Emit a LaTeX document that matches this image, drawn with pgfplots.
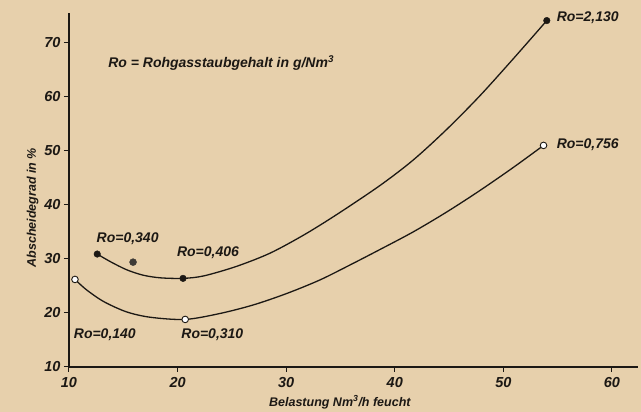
\documentclass[border=0pt]{standalone}
\usepackage{fontspec}
\setmainfont{Liberation Sans}
\usepackage{pgfplots}
\pgfplotsset{compat=1.18}
\definecolor{paper}{RGB}{231,208,172}
\definecolor{ink}{RGB}{28,24,20}
\begin{document}
\begin{tikzpicture}
\useasboundingbox (0,0) rectangle (641pt,412pt);
\fill[paper] (0,0) rectangle (641pt,412pt);
\begin{axis}[
  at={(69pt,45pt)}, anchor=south west,
  scale only axis, width=569pt, height=354pt,
  xmin=10, xmax=62.4, ymin=10, ymax=75.5,
  axis x line*=bottom, axis y line*=left,
  axis line style={ink, line width=1.4pt},
  xtick={10,20,...,60}, ytick={10,20,...,70},
  tick style={ink, line width=1pt}, tick align=outside, major tick length=5pt,
  /pgf/number format/assume math mode=true,
  tick label style={font=\fontsize{14.5}{16}\selectfont\bfseries\itshape, text=ink},
  xticklabel style={yshift=-2pt},
  label style={font=\fontsize{12.5}{14}\selectfont\bfseries\itshape, text=ink},
  xlabel={Belastung Nm\textsuperscript{3}/h feucht},
  ylabel={Abscheidegrad in \%},
  xlabel style={at={(axis description cs:0.476,-0.10)}, anchor=center},
  ylabel style={at={(axis description cs:-0.064,0.45)}, anchor=center},
  clip=false,
]
% upper curve (filled points)
\addplot[ink, line width=1.3pt, smooth] coordinates {
 (12.6,30.9) (13.8,29.5) (15.3,28.0) (16.8,27.0) (18.4,26.5) (20.5,26.4)
 (22.4,26.85) (25.4,28.6) (28.5,31.05) (31.6,34.4) (34.65,38.2) (38.65,43.6)
 (41.7,48.3) (44.75,53.9) (47.8,60.1) (50.9,67) (54,74.1)};
% lower curve (open points)
\addplot[ink, line width=1.3pt, smooth] coordinates {
 (10.55,26.2) (11.6,24.3) (13.2,22.1) (15.3,20.2) (17.5,19.2) (20.7,18.8)
 (23.9,19.9) (27.0,21.5) (30.05,23.6) (33.1,26.1) (35.9,28.9) (38.6,31.7)
 (41.7,35.0) (44.8,38.7) (47.8,42.6) (50.9,46.9) (53.7,51)};
\addplot[only marks, mark=*, mark size=3.3pt, mark options={fill=ink, draw=ink}] coordinates {
 (12.6,30.9) (20.5,26.4) (54,74.1)};
\addplot[only marks, mark=*, mark size=3.5pt, mark options={fill=ink!85, draw=ink!85}] coordinates {
 (15.9,29.4)};
\addplot[only marks, mark=*, mark size=3.3pt, mark options={fill=white, draw=ink, line width=0.9pt}] coordinates {
 (10.55,26.2) (20.7,18.8) (53.7,51)};
\begin{scope}[every node/.style={font=\fontsize{14}{16}\selectfont\bfseries\itshape, text=ink}]
\node at (axis cs:15.4,33.7) {Ro=0,340};
\node at (axis cs:22.8,31.1) {Ro=0,406};
\node at (axis cs:13.3,15.9) {Ro=0,140};
\node at (axis cs:23.2,15.9) {Ro=0,310};
\node[anchor=west, inner sep=0pt] at (axis cs:54.9,74.6) {Ro=2,130};
\node[anchor=west, inner sep=0pt] at (axis cs:54.9,51.1) {Ro=0,756};
\node[anchor=west, inner sep=0pt] at (axis cs:13.6,66.3) {Ro = Rohgasstaubgehalt in g/Nm\textsuperscript{3}};
\end{scope}
\end{axis}
\end{tikzpicture}
\end{document}
